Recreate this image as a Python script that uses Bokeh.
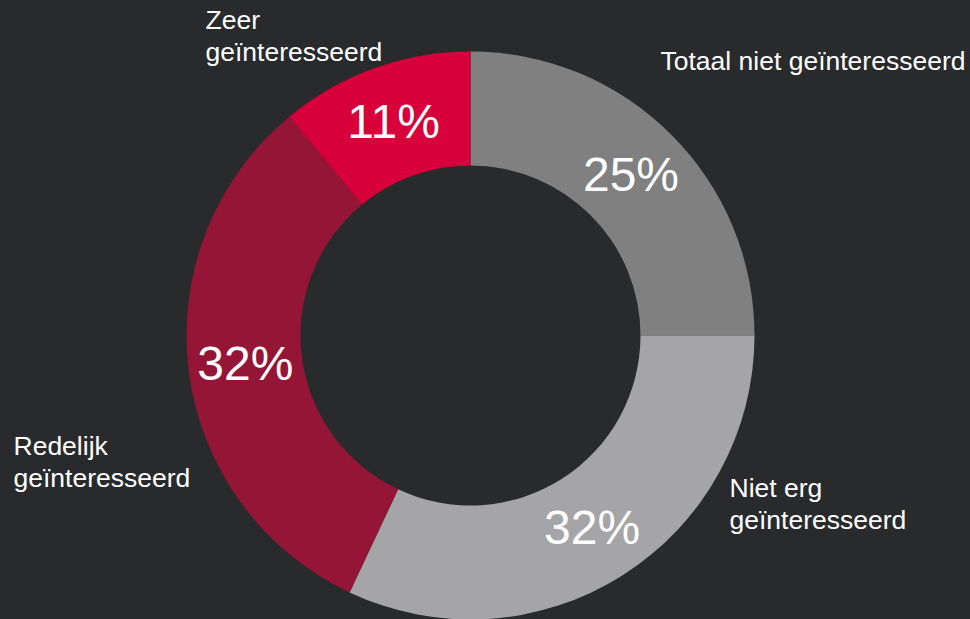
import math
from bokeh.plotting import figure
from bokeh.models import Range1d, ColumnDataSource
from bokeh.core.properties import value
from bokeh.embed import file_html
from bokeh.resources import INLINE

# ---- data ----
categories = ["Totaal niet geïnteresseerd", "Niet erg geïnteresseerd",
              "Redelijk geïnteresseerd", "Zeer geïnteresseerd"]
shares = [25, 32, 32, 11]
pct_labels = ["25%", "32%", "32%", "11%"]
cat_lines = [["Totaal niet geïnteresseerd"], ["Niet erg", "geïnteresseerd"],
             ["Redelijk", "geïnteresseerd"], ["Zeer", "geïnteresseerd"]]

# ---- styling / layout ----
colors = ["#808080", "#a5a5a7", "#941535", "#d7003a"]
BG = "#292a2c"
W, H = 970, 619
CX, CY = 470, 284
R_OUT, R_IN = 284, 170
# anchor (left x, first line middle y) for category labels, in pixel coordinates
label_anchor = [(660, 559), (729, 132), (13, 174), (205, 600)]
LINE_SP = 32

p = figure(width=W, height=H, output_backend="svg", toolbar_location=None,
           x_range=Range1d(0, W), y_range=Range1d(0, H), min_border=0)
p.axis.visible = False
p.grid.visible = False
p.outline_line_color = None
p.background_fill_color = BG
p.border_fill_color = BG

total = float(sum(shares))
starts, ends, mx, my = [], [], [], []
cum = 0.0
r_mid = (R_OUT + R_IN) / 2
for s in shares:
    a0 = math.pi / 2 - 2 * math.pi * cum / total
    a1 = math.pi / 2 - 2 * math.pi * (cum + s) / total
    starts.append(a0)
    ends.append(a1)
    am = (a0 + a1) / 2
    mx.append(CX + r_mid * math.cos(am))
    my.append(CY + r_mid * math.sin(am))
    cum += s

src = ColumnDataSource(dict(start=starts, end=ends, color=colors, cat=categories,
                            x=[CX] * len(shares), y=[CY] * len(shares)))
p.annular_wedge(x="x", y="y", inner_radius=R_IN, outer_radius=R_OUT,
                start_angle="start", end_angle="end", direction="clock",
                fill_color="color", line_color=None, source=src)

p.text(x=mx, y=my, text=pct_labels, text_font=value("Liberation Sans"),
       text_font_size="48px", text_color="white", text_align="center",
       text_baseline="middle")

lx, ly, lt = [], [], []
for (ax, ay), lines in zip(label_anchor, cat_lines):
    for i, ln in enumerate(lines):
        lx.append(ax)
        ly.append(ay - i * LINE_SP)
        lt.append(ln)
p.text(x=lx, y=ly, text=lt, text_font=value("Liberation Sans"),
       text_font_size="26.5px", text_color="white", text_align="left",
       text_baseline="middle")

html = file_html(p, INLINE)
html = html.replace("</head>",
                    "<style>html,body{background:%s;margin:0;padding:0;overflow:hidden;}</style></head>" % BG, 1)
open("out.html", "w").write(html)
